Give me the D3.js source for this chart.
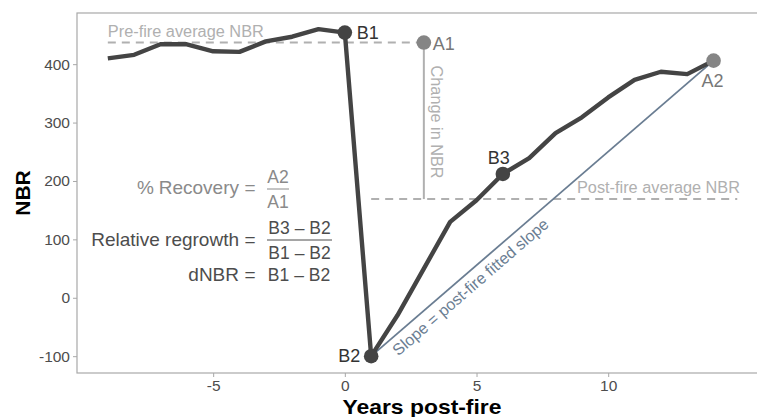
<!DOCTYPE html>
<html>
<head>
<meta charset="utf-8">
<script src="https://cdn.jsdelivr.net/npm/d3@7"></script>
<style>
  html, body { margin: 0; padding: 0; background: #fff; }
  svg text { font-family: "Liberation Sans", Arial, Helvetica, sans-serif; }
</style>
</head>
<body>
<svg id="chart" width="757" height="417"></svg>
<script>
// NBR time series around a fire (year 0 = fire year)
const years = [-9, -8, -7, -6, -5, -4, -3, -2, -1, 0, 1, 2, 3, 4, 5, 6, 7, 8, 9, 10, 11, 12, 13, 14];
const nbr   = [410, 416, 434, 434, 422, 421, 439, 447, 460, 454, -100, -30, 50, 130, 167, 212, 239, 282, 309, 343, 373, 387, 383, 406];

// Reference levels
const preFireAvg = 437;
const postFireAvg = 169;

// Key points
const keyPoints = [
  { name: "B1", year: 0,  value: 454, kind: "b" },
  { name: "B2", year: 1,  value: -100, kind: "b" },
  { name: "B3", year: 6,  value: 212, kind: "b" },
  { name: "A1", year: 3,  value: 437, kind: "a" },
  { name: "A2", year: 14, value: 406, kind: "a" }
];

const xTicks = [-5, 0, 5, 10];
const yTicks = [-100, 0, 100, 200, 300, 400];

const svg = d3.select("#chart");
const margin = { left: 77, top: 13, right: 0, bottom: 44 };
const W = 757, H = 417;
const pw = W - margin.left - margin.right;
const ph = H - margin.top - margin.bottom;

const x = d3.scaleLinear().domain([-10.17, 15.65]).range([margin.left, margin.left + pw]);
const y = d3.scaleLinear().domain([-128.8, 487.6]).range([margin.top + ph, margin.top]);

const dark = "#444444";
const midGray = "#858585";
const light = "#b0b0b0";
const slate = "#6a7d92";
const fmt = d => String(d); // plain hyphen for negatives

// Panel border (right side runs past the edge of the canvas)
svg.append("rect")
  .attr("x", margin.left).attr("y", margin.top)
  .attr("width", pw + 6).attr("height", ph)
  .attr("fill", "none").attr("stroke", "#a8a8a8").attr("stroke-width", 1.2);

// Axes
const xAxis = svg.append("g")
  .attr("transform", `translate(0,${margin.top + ph})`)
  .call(d3.axisBottom(x).tickValues(xTicks).tickFormat(fmt).tickSize(4).tickSizeOuter(0).tickPadding(3));
const yAxis = svg.append("g")
  .attr("transform", `translate(${margin.left},0)`)
  .call(d3.axisLeft(y).tickValues(yTicks).tickFormat(fmt).tickSize(4).tickSizeOuter(0).tickPadding(3));
[xAxis, yAxis].forEach(g => {
  g.select(".domain").remove();
  g.selectAll(".tick line").attr("stroke", "#a8a8a8");
  g.selectAll(".tick text").attr("fill", "#4d4d4d").style("font-size", "15.5px");
});

// Axis titles
svg.append("text")
  .attr("x", 422).attr("y", 414)
  .attr("text-anchor", "middle")
  .style("font-size", "21px").style("font-weight", "bold")
  .attr("fill", "#000")
  .attr("textLength", 159).attr("lengthAdjust", "spacingAndGlyphs")
  .text("Years post-fire");
svg.append("text")
  .attr("transform", `translate(30,${margin.top + ph / 2}) rotate(-90)`)
  .attr("text-anchor", "middle")
  .style("font-size", "21px").style("font-weight", "bold")
  .attr("fill", "#000")
  .text("NBR");

// Pre-fire average (dashed) from first year to A1
svg.append("line")
  .attr("x1", x(-9)).attr("x2", x(3))
  .attr("y1", y(preFireAvg)).attr("y2", y(preFireAvg))
  .attr("stroke", light).attr("stroke-width", 2).attr("stroke-dasharray", "8,6");
svg.append("text")
  .attr("x", x(-9)).attr("y", y(preFireAvg) - 6)
  .attr("fill", light).style("font-size", "16px")
  .attr("textLength", 156).attr("lengthAdjust", "spacingAndGlyphs")
  .text("Pre-fire average NBR");

// Post-fire average (dashed)
svg.append("line")
  .attr("x1", x(1)).attr("x2", x(14.9))
  .attr("y1", y(postFireAvg)).attr("y2", y(postFireAvg))
  .attr("stroke", light).attr("stroke-width", 2).attr("stroke-dasharray", "8,6");
svg.append("text")
  .attr("x", 577).attr("y", y(postFireAvg) - 6)
  .attr("fill", light).style("font-size", "16px")
  .attr("textLength", 163).attr("lengthAdjust", "spacingAndGlyphs")
  .text("Post-fire average NBR");

// Change in NBR (vertical)
svg.append("line")
  .attr("x1", x(3)).attr("x2", x(3))
  .attr("y1", y(preFireAvg)).attr("y2", y(postFireAvg))
  .attr("stroke", light).attr("stroke-width", 2);
svg.append("text")
  .attr("transform", `translate(${x(3) + 7},${y(preFireAvg) + 23}) rotate(90)`)
  .attr("fill", light).style("font-size", "16px")
  .attr("textLength", 113).attr("lengthAdjust", "spacingAndGlyphs")
  .text("Change in NBR");

// Fitted slope B2 -> A2
const b2 = keyPoints.find(d => d.name === "B2");
const a2 = keyPoints.find(d => d.name === "A2");
svg.append("line")
  .attr("x1", x(b2.year)).attr("y1", y(b2.value))
  .attr("x2", x(a2.year)).attr("y2", y(a2.value))
  .attr("stroke", slate).attr("stroke-width", 1.8);
{
  const ang = Math.atan2(y(a2.value) - y(b2.value), x(a2.year) - x(b2.year)) * 180 / Math.PI;
  const t = 0.045;
  const px = x(b2.year) + t * (x(a2.year) - x(b2.year));
  const py = y(b2.value) + t * (y(a2.value) - y(b2.value));
  svg.append("text")
    .attr("transform", `translate(${px},${py}) rotate(${ang}) translate(0,18)`)
    .attr("fill", slate).style("font-size", "16px")
    .attr("textLength", 200).attr("lengthAdjust", "spacingAndGlyphs")
    .text("Slope = post-fire fitted slope");
}

// NBR trajectory
const series = years.map((yr, i) => ({ year: yr, value: nbr[i] }));
svg.append("path")
  .datum(series)
  .attr("fill", "none").attr("stroke", dark).attr("stroke-width", 4.4)
  .attr("stroke-linejoin", "round")
  .attr("d", d3.line().x(d => x(d.year)).y(d => y(d.value)));

// Key points and labels
svg.selectAll("circle.key")
  .data(keyPoints).enter().append("circle")
  .attr("class", "key")
  .attr("cx", d => x(d.year)).attr("cy", d => y(d.value))
  .attr("r", 7.3)
  .attr("fill", d => d.kind === "b" ? dark : midGray);

const labelPos = {
  B1: { dx: 12, dy: 6, anchor: "start" },
  B2: { dx: -11, dy: 6, anchor: "end" },
  B3: { dx: -4, dy: -10, anchor: "middle" },
  A1: { dx: 9, dy: 7, anchor: "start" },
  A2: { dx: -1, dy: 26, anchor: "middle" }
};
svg.selectAll("text.key")
  .data(keyPoints).enter().append("text")
  .attr("class", "key")
  .attr("x", d => x(d.year) + labelPos[d.name].dx)
  .attr("y", d => y(d.value) + labelPos[d.name].dy)
  .attr("text-anchor", d => labelPos[d.name].anchor)
  .attr("fill", d => d.kind === "b" ? "#333" : "#777")
  .style("font-size", "18px")
  .text(d => d.name);

// Formulas
const fsName = "19px";
const fsFrac = "17.5px";
const labelEnd = 239;   // right edge of formula names
const eqX = 250;        // centre of "="
const fracX = 267;      // left edge of fraction area
function eq(baseline, color) {
  svg.append("text").attr("x", eqX).attr("y", baseline).attr("text-anchor", "middle")
    .attr("fill", color).style("font-size", fsName).text("=");
}
function fraction(cy, num, den, color, width) {
  svg.append("text").attr("x", fracX + width / 2).attr("y", cy - 6)
    .attr("text-anchor", "middle").attr("fill", color).style("font-size", fsFrac).text(num);
  svg.append("line").attr("x1", fracX).attr("x2", fracX + width)
    .attr("y1", cy).attr("y2", cy).attr("stroke", color).attr("stroke-width", 1);
  svg.append("text").attr("x", fracX + width / 2).attr("y", cy + 19)
    .attr("text-anchor", "middle").attr("fill", color).style("font-size", fsFrac).text(den);
}

// % Recovery = A2 / A1
const recColor = "#8a8a8a";
svg.append("text").attr("x", 137).attr("y", 194)
  .attr("fill", recColor).style("font-size", fsName).text("%");
svg.append("text").attr("x", labelEnd).attr("y", 194).attr("text-anchor", "end")
  .attr("fill", recColor).style("font-size", fsName).text("Recovery");
eq(194, recColor);
fraction(189, "A2", "A1", recColor, 22);

// Relative regrowth = (B3 - B2) / (B1 - B2)
svg.append("text").attr("x", labelEnd).attr("y", 246).attr("text-anchor", "end")
  .attr("fill", "#4d4d4d").style("font-size", fsName).text("Relative regrowth");
eq(246, "#4d4d4d");
fraction(240, "B3 \u2013 B2", "B1 \u2013 B2", "#4d4d4d", 65);

// dNBR = B1 - B2
svg.append("text").attr("x", labelEnd).attr("y", 281).attr("text-anchor", "end")
  .attr("fill", "#4d4d4d").style("font-size", fsName).text("dNBR");
eq(281, "#4d4d4d");
svg.append("text").attr("x", fracX + 32).attr("y", 281).attr("text-anchor", "middle")
  .attr("fill", "#4d4d4d").style("font-size", fsFrac).text("B1 \u2013 B2");
</script>
</body>
</html>
